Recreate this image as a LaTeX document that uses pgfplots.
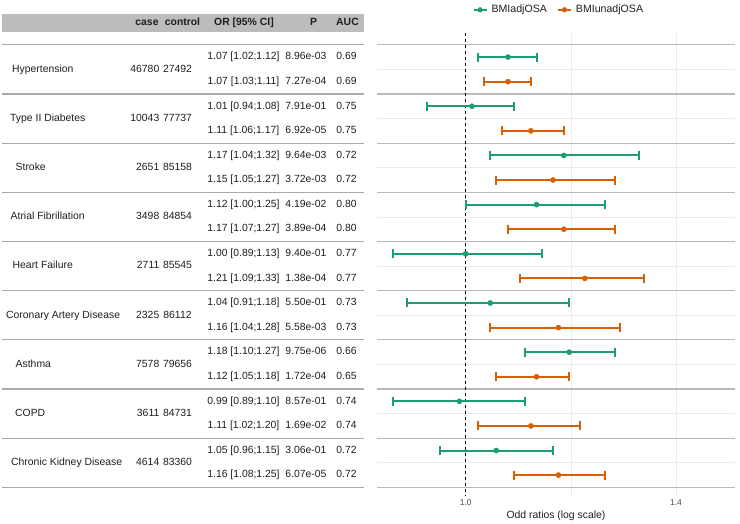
\documentclass[border=0pt]{standalone}
\usepackage{fontspec}
\setmainfont{Liberation Sans}
\usepackage{pgfplots}
\usepackage{pgfplotstable}
\pgfplotsset{compat=1.18}

\definecolor{adjgreen}{HTML}{1B9E77}
\definecolor{unadjorange}{HTML}{D95F02}
\definecolor{hdrgray}{RGB}{188,188,188}
\definecolor{tblline}{RGB}{170,170,170}
\definecolor{grpline}{RGB}{185,185,185}
\definecolor{lightgrid}{RGB}{235,235,235}
\definecolor{txt}{RGB}{30,30,30}

% y = row position (top to bottom), OR with 95% CI
\pgfplotstableread{
y    or   lo   hi
0.5  1.07 1.02 1.12
2.5  1.01 0.94 1.08
4.5  1.17 1.04 1.32
6.5  1.12 1.00 1.25
8.5  1.00 0.89 1.13
10.5 1.04 0.91 1.18
12.5 1.18 1.10 1.27
14.5 0.99 0.89 1.10
16.5 1.05 0.96 1.15
}\adjdata
\pgfplotstableread{
y    or   lo   hi
1.5  1.07 1.03 1.11
3.5  1.11 1.06 1.17
5.5  1.15 1.05 1.27
7.5  1.17 1.07 1.27
9.5  1.21 1.09 1.33
11.5 1.16 1.04 1.28
13.5 1.12 1.05 1.18
15.5 1.11 1.02 1.20
17.5 1.16 1.08 1.25
}\unadjdata

\tikzset{cell/.style={inner sep=0pt, text height=7.6pt, text depth=2.1pt, text=txt}}
\newcommand\grp[5]{%
  \node[cell, anchor=west] at (axis cs:#2,#1) {#3};
  \node[cell, anchor=east] at (axis cs:159.5,#1) {#4};
  \node[cell] at (axis cs:177.5,#1) {#5};}
\newcommand\rw[4]{%
  \node[cell] at (axis cs:243.5,#1) {#2};
  \node[cell] at (axis cs:306,#1) {#3};
  \node[cell] at (axis cs:346.5,#1) {#4};}

\begin{document}
\begin{tikzpicture}[font=\fontsize{10.4}{12.5}\selectfont]
\path[use as bounding box] (0,0) rectangle (740pt,523pt);

% ---- table on the left
\begin{axis}[
  at={(0pt,27pt)}, anchor=south west,
  scale only axis, width=377pt, height=463pt,
  xmin=0, xmax=377, ymin=-0.48, ymax=18.35, y dir=reverse,
  hide axis, clip=false,
]
\fill[hdrgray] (axis cs:2,-1.235) rectangle (axis cs:364,-0.53);
\node[cell, font=\bfseries\fontsize{10.4}{12.5}\selectfont] at (axis cs:147,-0.9) {case};
\node[cell, font=\bfseries\fontsize{10.4}{12.5}\selectfont] at (axis cs:182.5,-0.9) {control};
\node[cell, font=\bfseries\fontsize{10.4}{12.5}\selectfont] at (axis cs:244,-0.9) {OR [95\% CI]};
\node[cell, font=\bfseries\fontsize{10.4}{12.5}\selectfont] at (axis cs:313.5,-0.9) {P};
\node[cell, font=\bfseries\fontsize{10.4}{12.5}\selectfont] at (axis cs:347.5,-0.9) {AUC};
\pgfplotsinvokeforeach{0,2,...,18}{
  \draw[tblline, line width=1.1pt] (axis cs:2,#1) -- (axis cs:364,#1);
}
\grp{1}{12}{Hypertension}{46780}{27492}
\rw{0.5}{1.07 [1.02;1.12]}{8.96e-03}{0.69}
\rw{1.5}{1.07 [1.03;1.11]}{7.27e-04}{0.69}
\grp{3}{10}{Type II Diabetes}{10043}{77737}
\rw{2.5}{1.01 [0.94;1.08]}{7.91e-01}{0.75}
\rw{3.5}{1.11 [1.06;1.17]}{6.92e-05}{0.75}
\grp{5}{15.5}{Stroke}{2651}{85158}
\rw{4.5}{1.17 [1.04;1.32]}{9.64e-03}{0.72}
\rw{5.5}{1.15 [1.05;1.27]}{3.72e-03}{0.72}
\grp{7}{10.5}{Atrial Fibrillation}{3498}{84854}
\rw{6.5}{1.12 [1.00;1.25]}{4.19e-02}{0.80}
\rw{7.5}{1.17 [1.07;1.27]}{3.89e-04}{0.80}
\grp{9}{12.5}{Heart Failure}{2711}{85545}
\rw{8.5}{1.00 [0.89;1.13]}{9.40e-01}{0.77}
\rw{9.5}{1.21 [1.09;1.33]}{1.38e-04}{0.77}
\grp{11}{6}{Coronary Artery Disease}{2325}{86112}
\rw{10.5}{1.04 [0.91;1.18]}{5.50e-01}{0.73}
\rw{11.5}{1.16 [1.04;1.28]}{5.58e-03}{0.73}
\grp{13}{15.5}{Asthma}{7578}{79656}
\rw{12.5}{1.18 [1.10;1.27]}{9.75e-06}{0.66}
\rw{13.5}{1.12 [1.05;1.18]}{1.72e-04}{0.65}
\grp{15}{15}{COPD}{3611}{84731}
\rw{14.5}{0.99 [0.89;1.10]}{8.57e-01}{0.74}
\rw{15.5}{1.11 [1.02;1.20]}{1.69e-02}{0.74}
\grp{17}{11}{Chronic Kidney Disease}{4614}{83360}
\rw{16.5}{1.05 [0.96;1.15]}{3.06e-01}{0.72}
\rw{17.5}{1.16 [1.08;1.25]}{6.07e-05}{0.72}
\end{axis}

% ---- forest plot on the right
\begin{axis}[
  at={(377pt,27pt)}, anchor=south west,
  scale only axis, width=358pt, height=463pt,
  xmode=log, xmin=0.8677, xmax=1.5387,
  ymin=-0.48, ymax=18.35, y dir=reverse,
  axis line style={draw=none},
  major tick length=0pt, minor tick length=0pt,
  xtick={1.0,1.4}, xticklabels={1.0,1.4},
  minor xtick={1.1832},
  ytick={0,2,...,18}, yticklabels={},
  minor ytick={1,3,...,17},
  xmajorgrids, xminorgrids, ymajorgrids, yminorgrids,
  major x grid style={lightgrid, line width=0.8pt},
  minor x grid style={lightgrid, line width=0.5pt},
  major y grid style={grpline, line width=1.2pt},
  minor y grid style={lightgrid, line width=0.8pt},
  xticklabel style={anchor=center, yshift=-7pt, text=black!70,
    font=\fontsize{8.5}{10}\selectfont},
  /pgf/number format/assume math mode=true,
  xlabel={Odd ratios (log scale)},
  xlabel style={at={(axis description cs:0.5,0)}, anchor=center, yshift=-20pt,
    text=txt, font=\fontsize{10.4}{12}\selectfont},
  legend style={draw=none, fill=none, at={(0.508,1.05)}, anchor=center,
    legend columns=2, font=\fontsize{10.6}{13}\selectfont, text=txt,
    /tikz/every odd column/.append style={column sep=2pt},
    /tikz/every even column/.append style={column sep=8pt}},
  legend cell align=left,
]
\addplot[black, line width=0.8pt, dash pattern=on 3pt off 3pt, forget plot]
  coordinates {(1,-0.48) (1,18.35)};
\addplot[adjgreen, only marks, mark=*, mark size=2.6pt,
  legend image code/.code={
    \draw[adjgreen, line width=2pt] (0pt,0pt) -- (13pt,0pt);
    \fill[adjgreen] (6.5pt,0pt) circle (2.4pt);},
  error bars/.cd, x dir=both, x explicit,
  error bar style={line width=2pt, adjgreen},
  error mark options={line width=2pt, mark size=4.5pt, rotate=90, adjgreen},
  ]
  table[x=or, y=y, x error plus expr=\thisrow{hi}-\thisrow{or},
        x error minus expr=\thisrow{or}-\thisrow{lo}] {\adjdata};
\addlegendentry{BMIadjOSA}
\addplot[unadjorange, only marks, mark=*, mark size=2.6pt,
  legend image code/.code={
    \draw[unadjorange, line width=2pt] (0pt,0pt) -- (13pt,0pt);
    \fill[unadjorange] (6.5pt,0pt) circle (2.4pt);},
  error bars/.cd, x dir=both, x explicit,
  error bar style={line width=2pt, unadjorange},
  error mark options={line width=2pt, mark size=4.5pt, rotate=90, unadjorange},
  ]
  table[x=or, y=y, x error plus expr=\thisrow{hi}-\thisrow{or},
        x error minus expr=\thisrow{or}-\thisrow{lo}] {\unadjdata};
\addlegendentry{BMIunadjOSA}
\end{axis}
\end{tikzpicture}
\end{document}
